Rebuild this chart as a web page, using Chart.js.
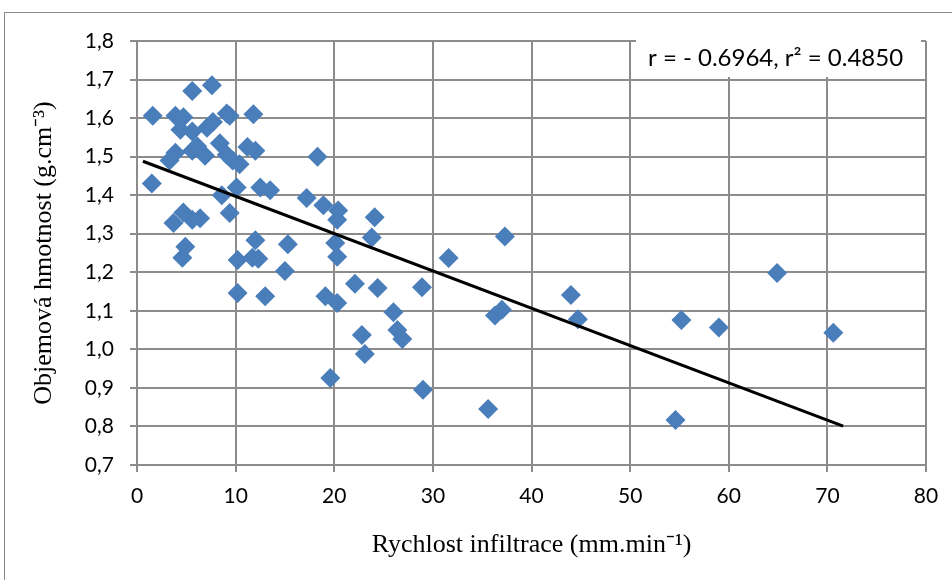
<!DOCTYPE html>
<html>
<head>
<meta charset="utf-8">
<script src="https://cdn.jsdelivr.net/npm/chart.js@4"></script>
<style>
  html, body { margin: 0; padding: 0; background: #fff; }
</style>
</head>
<body>
<canvas id="graf" width="952" height="580"></canvas>
<script>
// rychlost infiltrace (mm.min-1)
const rychlost = [
  1.6, 1.5, 5.6, 7.6, 3.9, 4.7, 4.4, 5.6, 7.1, 7.7,
  9.1, 9.4, 11.8, 8.4, 6.1, 3.9, 3.3, 5.6, 6.9, 9.1,
  11.2, 12.0, 10.4, 9.7, 10.1, 12.5, 13.5, 8.6, 18.3, 17.2,
  18.9, 20.4, 20.3, 24.1, 4.7, 3.7, 5.6, 6.4, 9.4, 4.9,
  4.6, 12.0, 15.3, 10.2, 11.7, 12.3, 15.0, 10.2, 13.0, 20.1,
  23.8, 20.3, 22.1, 24.4, 28.9, 19.1, 20.3, 26.0, 26.4, 26.9,
  22.8, 23.1, 19.6, 29.0, 31.6, 37.3, 36.3, 37.0, 44.0, 44.7,
  64.9, 55.2, 59.0, 70.6, 35.6, 54.6
];
// objemova hmotnost (g.cm-3)
const objemHmot = [
  1.606, 1.430, 1.670, 1.685, 1.606, 1.602, 1.570, 1.565, 1.575, 1.590,
  1.612, 1.606, 1.610, 1.535, 1.527, 1.510, 1.490, 1.515, 1.502, 1.505,
  1.525, 1.515, 1.480, 1.490, 1.420, 1.420, 1.413, 1.400, 1.500, 1.393,
  1.374, 1.360, 1.336, 1.343, 1.355, 1.328, 1.336, 1.340, 1.354, 1.266,
  1.238, 1.283, 1.273, 1.232, 1.238, 1.235, 1.203, 1.146, 1.138, 1.276,
  1.290, 1.240, 1.170, 1.159, 1.161, 1.138, 1.120, 1.096, 1.050, 1.027,
  1.037, 0.988, 0.926, 0.895, 1.237, 1.293, 1.088, 1.103, 1.141, 1.078,
  1.198, 1.076, 1.057, 1.043, 0.845, 0.817
];
// spojnice trendu
const trendX = [0.6, 71.6];
const trendY = [1.488, 0.801];

const popisek = "r = - 0.6964, r\u00b2 = 0.4850";

const body = rychlost.map((x, i) => ({ x: x, y: objemHmot[i] }));
const trend = trendX.map((x, i) => ({ x: x, y: trendY[i] }));

const ramecek = {
  id: "ramecek",
  beforeDraw(chart) {
    const ctx = chart.ctx;
    ctx.save();
    ctx.strokeStyle = "#8a8a8a";
    ctx.lineWidth = 1;
    ctx.strokeRect(4.5, 12.5, 1000, 1000);
    ctx.restore();
  },
  afterDraw(chart) {
    const ctx = chart.ctx;
    ctx.save();
    ctx.fillStyle = "#fff";
    ctx.fillRect(636, 36, 285, 41);
    ctx.fillStyle = "#000";
    ctx.font = "24px Lato";
    ctx.textBaseline = "middle";
    ctx.fillText(popisek, 648, 58);
    ctx.restore();
  },
};

const mrizka = {
  color: "#8c8c8c",
  lineWidth: 2,
  tickLength: 7,
  drawTicks: true,
};

new Chart(document.getElementById("graf"), {
  type: "scatter",
  data: {
    datasets: [
      {
        data: body,
        pointStyle: "rectRot",
        pointRadius: 10,
        pointHoverRadius: 10,
        backgroundColor: "#4a7ebb",
        borderColor: "#4a7ebb",
        borderWidth: 0,
        order: 2,
      },
      {
        data: trend,
        type: "line",
        showLine: true,
        borderColor: "#000",
        borderWidth: 3,
        pointRadius: 0,
        fill: false,
        order: 1,
      },
    ],
  },
  options: {
    responsive: false,
    animation: false,
    layout: { padding: { left: 0, top: 41, right: 26, bottom: 0 } },
    plugins: { legend: { display: false }, tooltip: { enabled: false } },
    scales: {
      x: {
        type: "linear",
        min: 0,
        max: 80,
        ticks: {
          stepSize: 10,
          color: "#000",
          font: { family: "Lato", size: 21 },
          padding: 12,
        },
        grid: mrizka,
        border: { color: "#8c8c8c", width: 2 },
        title: {
          display: true,
          text: "Rychlost infiltrace (mm.min\u207b\u00b9)",
          color: "#000",
          font: { family: "Liberation Serif", size: 26 },
          padding: { top: 0, bottom: 19 },
        },
        afterFit(scale) {
          scale.height = 115;
        },
      },
      y: {
        type: "linear",
        min: 0.7,
        max: 1.8,
        ticks: {
          stepSize: 0.1,
          color: "#000",
          font: { family: "Lato", size: 21 },
          padding: 16,
          callback: (v) => v.toFixed(1).replace(".", ","),
        },
        grid: mrizka,
        border: { color: "#8c8c8c", width: 2 },
        title: {
          display: true,
          text: "Objemov\u00e1 hmotnost (g.cm\u207b\u00b3)",
          color: "#000",
          font: { family: "Liberation Serif", size: 26 },
          padding: { top: 29, bottom: 0 },
        },
        afterFit(scale) {
          scale.width = 137;
        },
      },
    },
  },
  plugins: [ramecek],
});
</script>
</body>
</html>
